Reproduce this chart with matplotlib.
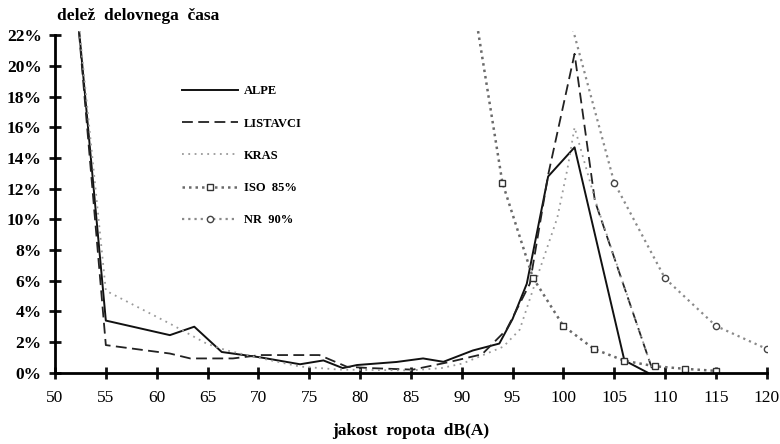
import matplotlib
matplotlib.use("Agg")
import matplotlib.pyplot as plt

plt.rcParams['font.family'] = ['Liberation Serif', 'DejaVu Serif']

# ALPE (solid)
alpe_x = [52, 55, 61.3, 63.7, 66.4, 70.2, 74.1, 76.4, 78.3, 79.7, 83.6, 86.2,
          88.2, 91.1, 93.7, 95.0, 96.4, 98.5, 101.1, 106.0, 108.3]
alpe_y = [25, 3.4, 2.45, 3.0, 1.35, 1.0, 0.55, 0.8, 0.3, 0.5, 0.7, 0.93,
          0.71, 1.45, 1.9, 3.5, 5.8, 12.8, 14.7, 0.8, 0.0]

# LISTAVCI (dashed)
list_x = [52, 55, 61.3, 63.3, 67.5, 70.2, 76, 78.7, 81, 85.2, 88.8, 92,
          94.4, 96.7, 98.5, 101.1, 103.1, 108.7]
list_y = [25, 1.8, 1.25, 0.93, 0.93, 1.15, 1.15, 0.39, 0.3, 0.2, 0.7, 1.2,
          2.8, 5.8, 12.9, 20.8, 11.2, 0.3]

# KRAS (dotted)
kras_x = [52, 55, 61.3, 64.9, 66.9, 70.2, 74.1, 78, 85, 88, 90.1, 94.1,
          95.7, 97.4, 99.4, 100.4, 101.1, 103.2, 108.7]
kras_y = [25, 5.35, 3.2, 1.9, 1.45, 0.95, 0.4, 0.2, 0.15, 0.3, 0.6, 1.7,
          2.8, 6.2, 10.1, 13.3, 16.0, 11.1, 0.3]

# ISO 85%
iso_x = [91, 94, 97, 100, 103, 106, 109, 112, 115]
iso_y = [24.8, 12.4, 6.2, 3.05, 1.55, 0.78, 0.42, 0.25, 0.12]

# NR 90%
nr_x = [100, 105, 110, 115, 120]
nr_y = [24.7, 12.4, 6.15, 3.05, 1.55]

yticks = list(range(0, 23, 2))
xticks = list(range(50, 121, 5))

fig = plt.figure(figsize=(7.8, 4.44), dpi=100)
ax = fig.add_axes([0.0705, 0.1606, 0.9125, 0.77])

ax.plot(alpe_x, alpe_y, color='#111111', lw=1.4, label='ALPE')
ax.plot(list_x, list_y, color='#222222', lw=1.3, ls=(0, (6, 3)), label='LISTAVCI')
ax.plot(kras_x, kras_y, color='#9a9a9a', lw=1.3, ls=(0, (1, 2.5)), label='KRAS')
ax.plot(iso_x, iso_y, color='#6a6a6a', lw=1.8, ls=(0, (1, 1.6)),
        marker='s', ms=5, mfc='white', mec='#333333', mew=1.0, label='ISO  85%')
ax.plot(nr_x, nr_y, color='#8a8a8a', lw=1.6, ls=(0, (1, 1.8)),
        marker='o', ms=4.5, mfc='white', mec='#444444', mew=1.0, label='NR  90%')

ax.set_xlim(50, 120)
ax.set_ylim(0, 22.3)
ax.spines['top'].set_visible(False)
ax.spines['right'].set_visible(False)
ax.spines['left'].set_linewidth(2)
ax.spines['bottom'].set_linewidth(2)
ax.spines['left'].set_bounds(0, 22)
ax.set_xticks(xticks)
ax.set_xticklabels([str(v) for v in xticks])
ax.set_yticks(yticks)
ax.set_yticklabels([f"{v}%" for v in yticks])
ax.tick_params(direction='inout', length=9, width=2, labelsize=12.5, color='#111111')
ax.tick_params(axis='y', pad=5)
ax.tick_params(axis='x', pad=8)
for lbl in ax.get_yticklabels():
    lbl.set_fontweight('bold')

ax.set_xlabel("jakost  ropota  dB(A)", fontsize=12.5, fontweight='bold', labelpad=12)
fig.text(0.073, 0.964, "delež  delovnega  časa", fontsize=12.5, fontweight='bold',
         va='center', ha='left')

leg = ax.legend(loc='upper left', bbox_to_anchor=(0.225, 0.822),
                bbox_transform=fig.transFigure, frameon=False,
                handlelength=4.5, handletextpad=0.45, labelspacing=1.62,
                borderpad=0, prop={'weight': 'bold', 'size': 9})

fig.savefig("out.png", dpi=100)
